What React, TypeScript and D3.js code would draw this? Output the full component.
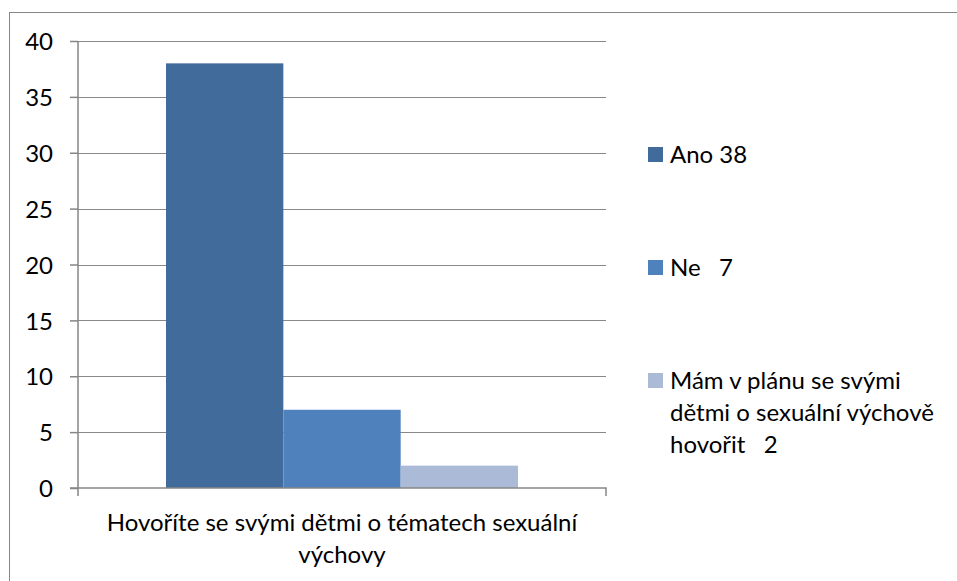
import * as d3 from "d3";
import { useEffect, useRef } from "react";

const categories = ["Hovoříte se svými dětmi o tématech sexuální výchovy"];
const categoryLines = ["Hovoříte se svými dětmi o tématech sexuální", "výchovy"];
const seriesNames = ["Ano 38", "Ne   7", "Mám v plánu se svými dětmi o sexuální výchově hovořit   2"];
const legendLines = [["Ano 38"], ["Ne   7"], ["Mám v plánu se svými", "dětmi o sexuální výchově", "hovořit   2"]];
const values = [38, 7, 2];
const colors = ["#416b9b", "#4f81bd", "#aabad7"];
const yTicks = [0, 5, 10, 15, 20, 25, 30, 35, 40];

const FONT = "Lato, 'Open Sans', sans-serif";

const App = () => {
  const svgRef = useRef(null);
  const width = 957;
  const height = 581;

  useEffect(() => {
    const svg = d3.select(svgRef.current);
    svg.selectAll("*").remove();

    const plot = { left: 78, right: 606, top: 41, bottom: 488 };

    // outer chart border
    svg
      .append("rect")
      .attr("x", 9.5)
      .attr("y", 12.5)
      .attr("width", width + 20)
      .attr("height", height + 20)
      .attr("fill", "#fff")
      .attr("stroke", "#868686")
      .attr("stroke-width", 1);

    const y = d3.scaleLinear().domain([0, 40]).range([plot.bottom, plot.top]);
    const x0 = d3.scaleBand().domain(categories).range([plot.left, plot.right]).padding(0);
    const x1 = d3
      .scaleBand()
      .domain(seriesNames)
      .range([0, x0.bandwidth()])
      .paddingInner(0)
      .paddingOuter(0.75);

    // gridlines
    svg
      .append("g")
      .selectAll("line")
      .data(yTicks.filter((t) => t > 0))
      .join("line")
      .attr("x1", plot.left)
      .attr("x2", plot.right)
      .attr("y1", (d) => Math.round(y(d)) + 0.5)
      .attr("y2", (d) => Math.round(y(d)) + 0.5)
      .attr("stroke", "#888")
      .attr("stroke-width", 1.2);

    // bars
    svg
      .append("g")
      .selectAll("rect")
      .data(values)
      .join("rect")
      .attr("x", (d, i) => x0(categories[0])! + x1(seriesNames[i])!)
      .attr("width", x1.bandwidth())
      .attr("y", (d) => y(d))
      .attr("height", (d) => y(0) - y(d))
      .attr("fill", (d, i) => colors[i]);

    // y axis
    const yAxis = svg
      .append("g")
      .attr("transform", `translate(${plot.left},0)`)
      .call(d3.axisLeft(y).tickValues(yTicks).tickSize(8).tickPadding(17));
    yAxis.select(".domain").attr("stroke", "#868686").attr("stroke-width", 1.5)
      .attr("d", `M0,${plot.top}V${plot.bottom + 8}`);
    yAxis.selectAll(".tick line").attr("stroke", "#868686").attr("stroke-width", 1.5);
    yAxis
      .selectAll(".tick text")
      .attr("fill", "#000")
      .attr("font-family", FONT)
      .attr("font-size", 24)
      .attr("dy", "0.36em");

    // x axis
    const xAxis = svg
      .append("g")
      .attr("transform", `translate(0,${plot.bottom})`)
      .call(d3.axisBottom(x0).tickValues([]).tickSizeOuter(0));
    xAxis.select(".domain").attr("stroke", "#868686").attr("stroke-width", 1.5)
      .attr("d", `M${plot.left - 8},0H${plot.right}V8`);

    const cx = x0(categories[0])! + x0.bandwidth() / 2;
    xAxis
      .append("text")
      .attr("text-anchor", "middle")
      .attr("font-family", FONT)
      .attr("font-size", 24)
      .attr("fill", "#000")
      .selectAll("tspan")
      .data(categoryLines)
      .join("tspan")
      .attr("x", cx)
      .attr("y", (d, i) => 43 + i * 32)
      .text((d) => d);

    // legend
    const legend = svg.append("g");
    const rowTop = [147, 260, 373];
    seriesNames.forEach((name, i) => {
      const g = legend.append("g").attr("transform", `translate(648,${rowTop[i]})`);
      g.append("rect").attr("width", 15).attr("height", 15).attr("fill", colors[i]);
      g.append("text")
        .attr("font-family", FONT)
        .attr("font-size", 24)
        .attr("fill", "#000")
        .style("white-space", "pre")
        .selectAll("tspan")
        .data(legendLines[i])
        .join("tspan")
        .attr("x", 22)
        .attr("y", (d, j) => 16 + j * 32)
        .style("white-space", "pre")
        .text((d) => d);
    });
  }, []);

  return (
    <svg
      ref={svgRef}
      width={width}
      height={height}
      style={{ position: "absolute", left: 0, top: 0, background: "#fff" }}
    />
  );
};

export default App;
